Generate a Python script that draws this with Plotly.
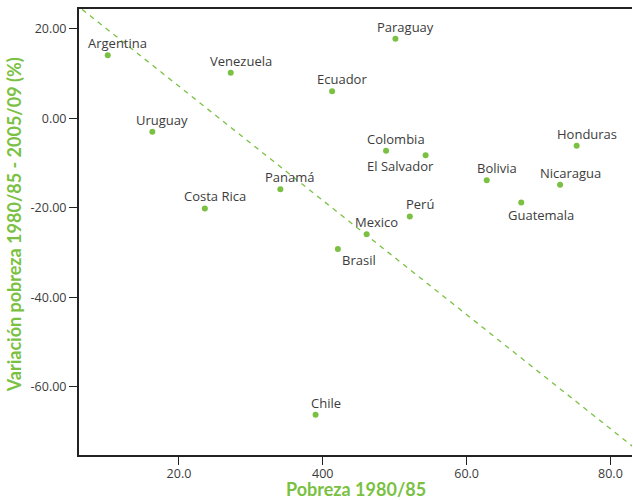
import plotly.graph_objects as go

# DATA
countries = ["Argentina", "Venezuela", "Uruguay", "Costa Rica", "Panamá", "Paraguay",
             "Ecuador", "Colombia", "El Salvador", "Bolivia", "Honduras", "Nicaragua",
             "Guatemala", "Perú", "Mexico", "Brasil", "Chile"]
pobreza_1980 = [10.1, 27.2, 16.3, 23.6, 34.1, 50.1, 41.3, 48.8, 54.3, 62.8, 75.3, 73.0,
                67.6, 52.1, 46.1, 42.1, 39.0]
variacion = [14.1, 10.2, -3.0, -20.1, -15.8, 17.8, 6.1, -7.2, -8.2, -13.8, -6.1, -14.8,
             -18.8, -21.9, -25.9, -29.2, -66.2]
trend_x = [0.0, 90.0]
trend_y = [32.7, -82.1]
x_tickvals = [20, 40, 60, 80]
x_ticktext = ["20.0", "400", "60.0", "80.0"]
y_tickvals = [-60, -40, -20, 0, 20]
y_ticktext = ["-60.00", "-40.00", "-20.00", "0.00", "20.00"]

green = "#7ac143"
text_colour = "#3c3c3c"
font_family = "Open Sans"

# label offsets (pixels) for points whose label is not above-right
label_shift = {"El Salvador": (-25, -11), "Guatemala": (20, -12), "Brasil": (21, -11)}

fig = go.Figure()
fig.add_trace(go.Scatter(
    x=trend_x, y=trend_y, mode="lines",
    line=dict(color=green, width=1.3, dash="5px,5px"),
    hoverinfo="skip", showlegend=False
))
fig.add_trace(go.Scatter(
    x=pobreza_1980, y=variacion, mode="markers",
    marker=dict(color=green, size=6),
    text=countries, showlegend=False
))

for c, xv, yv in zip(countries, pobreza_1980, variacion):
    dx, dy = label_shift.get(c, (10, 12))
    fig.add_annotation(x=xv, y=yv, text=c, showarrow=False, xshift=dx, yshift=dy,
                       font=dict(family=font_family, size=13, color=text_colour))

# axis titles
fig.add_annotation(x=0.5, y=0, xref="paper", yref="paper", yshift=-34, yanchor="middle",
                   text="<b>Pobreza 1980/85</b>", showarrow=False,
                   font=dict(family="Lato", size=18, color=green))
fig.add_annotation(x=0, y=0.515, xref="paper", yref="paper", xshift=-65, xanchor="center",
                   text="<b>Variación pobreza 1980/85 - 2005/09 (%)</b>", showarrow=False,
                   textangle=-90, font=dict(family="Lato", size=18, color=green))

fig.update_xaxes(range=[6.1, 83.0], tickvals=x_tickvals, ticktext=x_ticktext,
                 showgrid=False, zeroline=False, showline=True, linecolor="#222",
                 linewidth=2, mirror=True, ticks="outside", ticklen=8, tickcolor="#222",
                 ticklabelstandoff=-2,
                 tickfont=dict(family=font_family, size=12.5, color=text_colour),
                 automargin=False)
fig.update_yaxes(range=[-75.2, 24.45], tickvals=y_tickvals, ticktext=y_ticktext,
                 showgrid=False, zeroline=False, showline=True, linecolor="#222",
                 linewidth=2, ticks="outside", ticklen=8, tickcolor="#222",
                 tickfont=dict(family=font_family, size=12.5, color=text_colour),
                 automargin=False)

fig.update_layout(width=633, height=500, margin=dict(l=79, r=1, t=9, b=45),
                  plot_bgcolor="white", paper_bgcolor="white")

fig.write_html("out.html", config={"displayModeBar": False},
               post_script="document.body.style.margin='0';")
